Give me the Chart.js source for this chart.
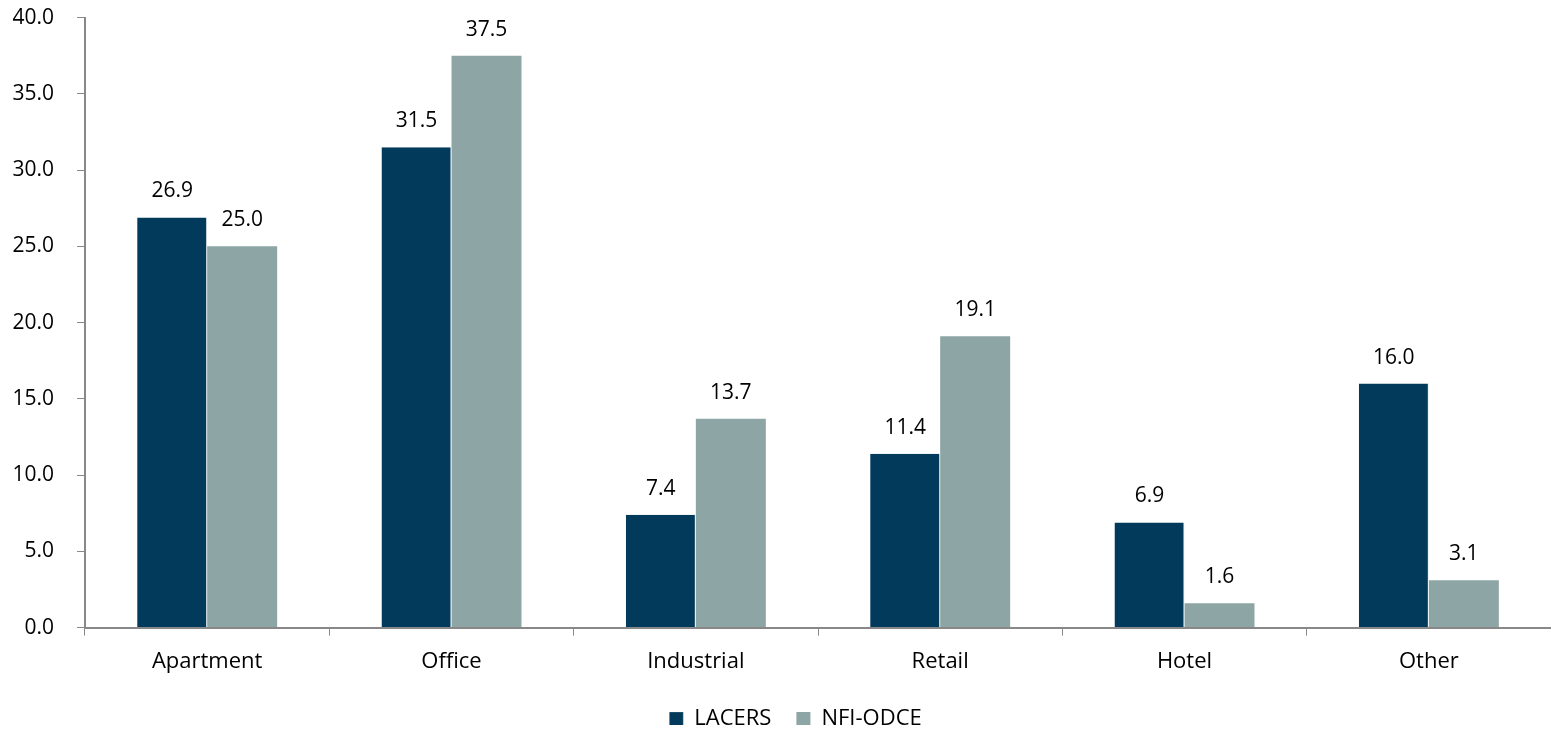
<!DOCTYPE html>
<html>
<head>
<meta charset="utf-8">
<script src="https://cdn.jsdelivr.net/npm/chart.js@4"></script>
<style>
  html, body { margin: 0; padding: 0; background: #fff; }
  #wrap { width: 1551px; height: 730px; }
</style>
</head>
<body>
<div id="wrap"><canvas id="chart"></canvas></div>
<script>
// data
const categories = ['Apartment', 'Office', 'Industrial', 'Retail', 'Hotel', 'Other'];
const lacers = [26.9, 31.5, 7.4, 11.4, 6.9, 16.0];
const nfiOdce = [25.0, 37.5, 13.7, 19.1, 1.6, 3.1];
const seriesNames = ['LACERS', 'NFI-ODCE'];

const FONT = '"Open Sans", sans-serif';

// value labels above bars
const barLabels = {
  id: 'barLabels',
  afterDatasetsDraw(chart) {
    const ctx = chart.ctx;
    ctx.save();
    ctx.font = '21px ' + FONT;
    ctx.fillStyle = '#000';
    ctx.textAlign = 'center';
    ctx.textBaseline = 'alphabetic';
    chart.data.datasets.forEach((ds, i) => {
      chart.getDatasetMeta(i).data.forEach((bar, j) => {
        ctx.fillText(ds.data[j].toFixed(1), bar.x, bar.y - 20);
      });
    });
    ctx.restore();
  }
};

// shorter legend box, nudged like the original
const legendFit = {
  id: 'legendFit',
  beforeInit(chart) {
    const lg = chart.legend;
    const fit = lg.fit;
    lg.fit = function () {
      fit.call(this);
      this.height = 42;
    };
  },
  afterLayout(chart) {
    const lg = chart.legend;
    lg.left += 18;
    lg.right += 18;
    lg.top -= 5;
    lg.bottom -= 5;
  }
};

const ctx = document.getElementById('chart').getContext('2d');
const chart = new Chart(ctx, {
  type: 'bar',
  data: {
    labels: categories,
    datasets: [
      { label: seriesNames[0], data: lacers, backgroundColor: '#023a5c', borderColor: '#e8eef0', borderWidth: { right: 1 } },
      { label: seriesNames[1], data: nfiOdce, backgroundColor: '#8ea5a5' }
    ]
  },
  options: {
    responsive: true,
    maintainAspectRatio: false,
    animation: false,
    layout: { padding: { top: 0, right: -4, left: 0, bottom: 0 } },
    datasets: { bar: { categoryPercentage: 0.573, barPercentage: 1.0 } },
    plugins: {
      legend: {
        position: 'bottom',
        labels: {
          font: { family: FONT, size: 22 },
          color: '#000',
          boxWidth: 14,
          boxHeight: 14,
          padding: 25
        }
      },
      tooltip: { enabled: false }
    },
    scales: {
      x: {
        grid: { drawOnChartArea: false, color: '#888', tickLength: 8, offset: true },
        border: { color: '#888', width: 2 },
        ticks: { color: '#000', font: { family: FONT, size: 22 }, padding: 13 }
      },
      y: {
        min: 0,
        max: 40,
        afterFit(scale) { scale.width = 85; },
        // long tick space for the label gap, only the 8px next to the axis drawn
        grid: { drawOnChartArea: false, color: '#888', tickLength: 26, tickBorderDash: [0, 18, 8, 100] },
        border: { color: '#888', width: 2 },
        ticks: {
          stepSize: 5,
          color: '#000',
          font: { family: FONT, size: 21 },
          padding: 5,
          callback: v => v.toFixed(1)
        }
      }
    }
  },
  plugins: [barLabels, legendFit]
});
</script>
</body>
</html>
